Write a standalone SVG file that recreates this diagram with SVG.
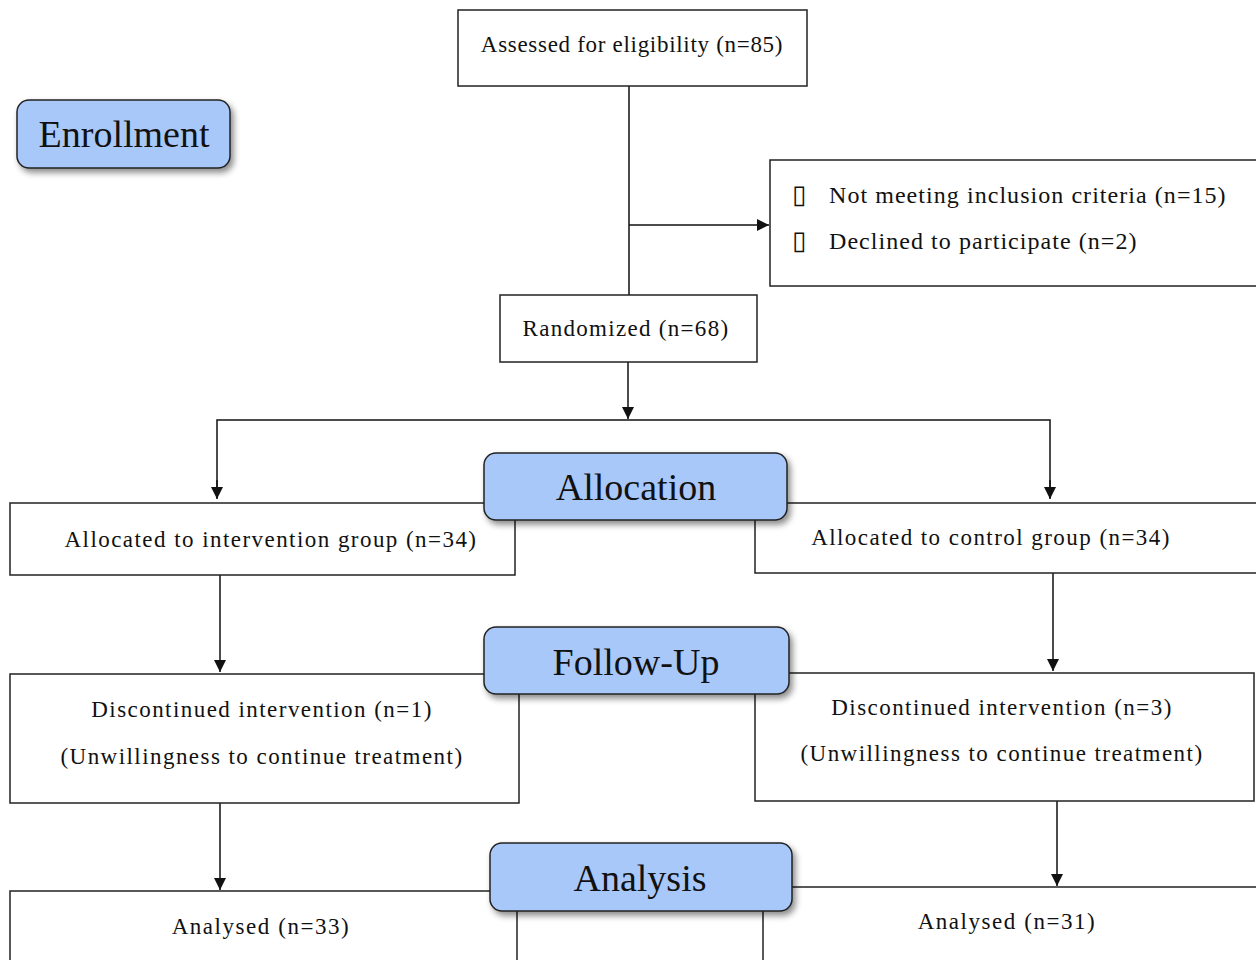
<svg xmlns="http://www.w3.org/2000/svg" width="1256" height="960" viewBox="0 0 1256 960" font-family="Liberation Serif, serif">
<defs>
<style>
.box{fill:#fff;stroke:#222;stroke-width:1.5}
.hdr{fill:#a9c8fa;stroke:#222;stroke-width:1.5}
.t{font-family:'Liberation Serif',serif;font-size:23px;fill:#111;text-anchor:middle;letter-spacing:1.45px}
.tl{font-family:'Liberation Serif',serif;font-size:24px;fill:#111;letter-spacing:1.05px}
.b{font-family:'DejaVu Sans',sans-serif;font-size:26px;fill:#111}
.h{font-family:'Liberation Serif',serif;font-size:38px;fill:#111;text-anchor:middle}
.c{fill:none;stroke:#111;stroke-width:1.5}
</style>
<marker id="ah" viewBox="0 0 12 12" refX="12" refY="6" markerWidth="12" markerHeight="12" markerUnits="userSpaceOnUse" orient="auto">
<path d="M0,0 L12,6 L0,12 z" fill="#111"/>
</marker>
<filter id="sh" x="-10%" y="-20%" width="130%" height="150%">
<feDropShadow dx="3" dy="4" stdDeviation="3" flood-color="#000" flood-opacity="0.45"/>
</filter>
</defs>
<rect width="1256" height="960" fill="#fff"/>

<g id="connectors">
<line class="c" x1="629" y1="86" x2="629" y2="295"/>
<line class="c" x1="629" y1="225" x2="769" y2="225" marker-end="url(#ah)"/>
<line class="c" x1="628" y1="362" x2="628" y2="419" marker-end="url(#ah)"/>
<polyline class="c" points="217,498 217,420 1050,420 1050,498"/>
<line class="c" x1="217" y1="480" x2="217" y2="499" marker-end="url(#ah)"/>
<line class="c" x1="1050" y1="480" x2="1050" y2="499" marker-end="url(#ah)"/>
<line class="c" x1="220" y1="575" x2="220" y2="672" marker-end="url(#ah)"/>
<line class="c" x1="1053" y1="573" x2="1053" y2="671" marker-end="url(#ah)"/>
<line class="c" x1="220" y1="803" x2="220" y2="890" marker-end="url(#ah)"/>
<line class="c" x1="1057" y1="795" x2="1057" y2="886" marker-end="url(#ah)"/>
</g>

<g id="assessed">
<rect class="box" x="458" y="10" width="349" height="76"/>
<text class="t" x="632" y="52" style="letter-spacing:0.7px">Assessed for eligibility (n=85)</text>
</g>

<g id="enrollment">
<rect class="hdr" x="17" y="100" width="213" height="68" rx="12" filter="url(#sh)"/>
<text class="h" x="124" y="147">Enrollment</text>
</g>

<g id="excluded">
<rect class="box" x="770" y="160" width="490" height="126"/>
<text class="b" x="792" y="203">▯</text>
<text class="tl" x="829" y="203">Not meeting inclusion criteria (n=15)</text>
<text class="b" x="792" y="249">▯</text>
<text class="tl" x="829" y="249">Declined to participate (n=2)</text>
</g>

<g id="randomized">
<rect class="box" x="500" y="295" width="257" height="67"/>
<text class="t" x="626" y="336" style="letter-spacing:1.3px">Randomized (n=68)</text>
</g>

<g id="alloc-left">
<rect class="box" x="10" y="503" width="505" height="72"/>
<text class="t" x="271" y="547">Allocated to intervention group (n=34)</text>
</g>

<g id="alloc-right">
<rect class="box" x="755" y="503" width="505" height="70"/>
<text class="t" x="991" y="545">Allocated to control group (n=34)</text>
</g>

<g id="allocation">
<rect class="hdr" x="484" y="453" width="303" height="67" rx="12" filter="url(#sh)"/>
<text class="h" x="636" y="500">Allocation</text>
</g>

<g id="fu-left">
<rect class="box" x="10" y="674" width="509" height="129"/>
<text class="t" x="262" y="717">Discontinued intervention (n=1)</text>
<text class="t" x="262" y="764">(Unwillingness to continue treatment)</text>
</g>

<g id="fu-right">
<rect class="box" x="755" y="673" width="499" height="128"/>
<text class="t" x="1002" y="715">Discontinued intervention (n=3)</text>
<text class="t" x="1002" y="761">(Unwillingness to continue treatment)</text>
</g>

<g id="followup">
<rect class="hdr" x="484" y="627" width="305" height="67" rx="12" filter="url(#sh)"/>
<text class="h" x="636" y="675">Follow-Up</text>
</g>

<g id="an-left">
<rect class="box" x="10" y="891" width="507" height="80"/>
<text class="t" x="261" y="934" style="letter-spacing:1.55px">Analysed (n=33)</text>
</g>

<g id="an-right">
<rect class="box" x="763" y="887" width="497" height="84"/>
<text class="t" x="1007" y="929" style="letter-spacing:1.55px">Analysed (n=31)</text>
</g>

<g id="analysis">
<rect class="hdr" x="490" y="843" width="302" height="68" rx="12" filter="url(#sh)"/>
<text class="h" x="640" y="891">Analysis</text>
</g>
</svg>
